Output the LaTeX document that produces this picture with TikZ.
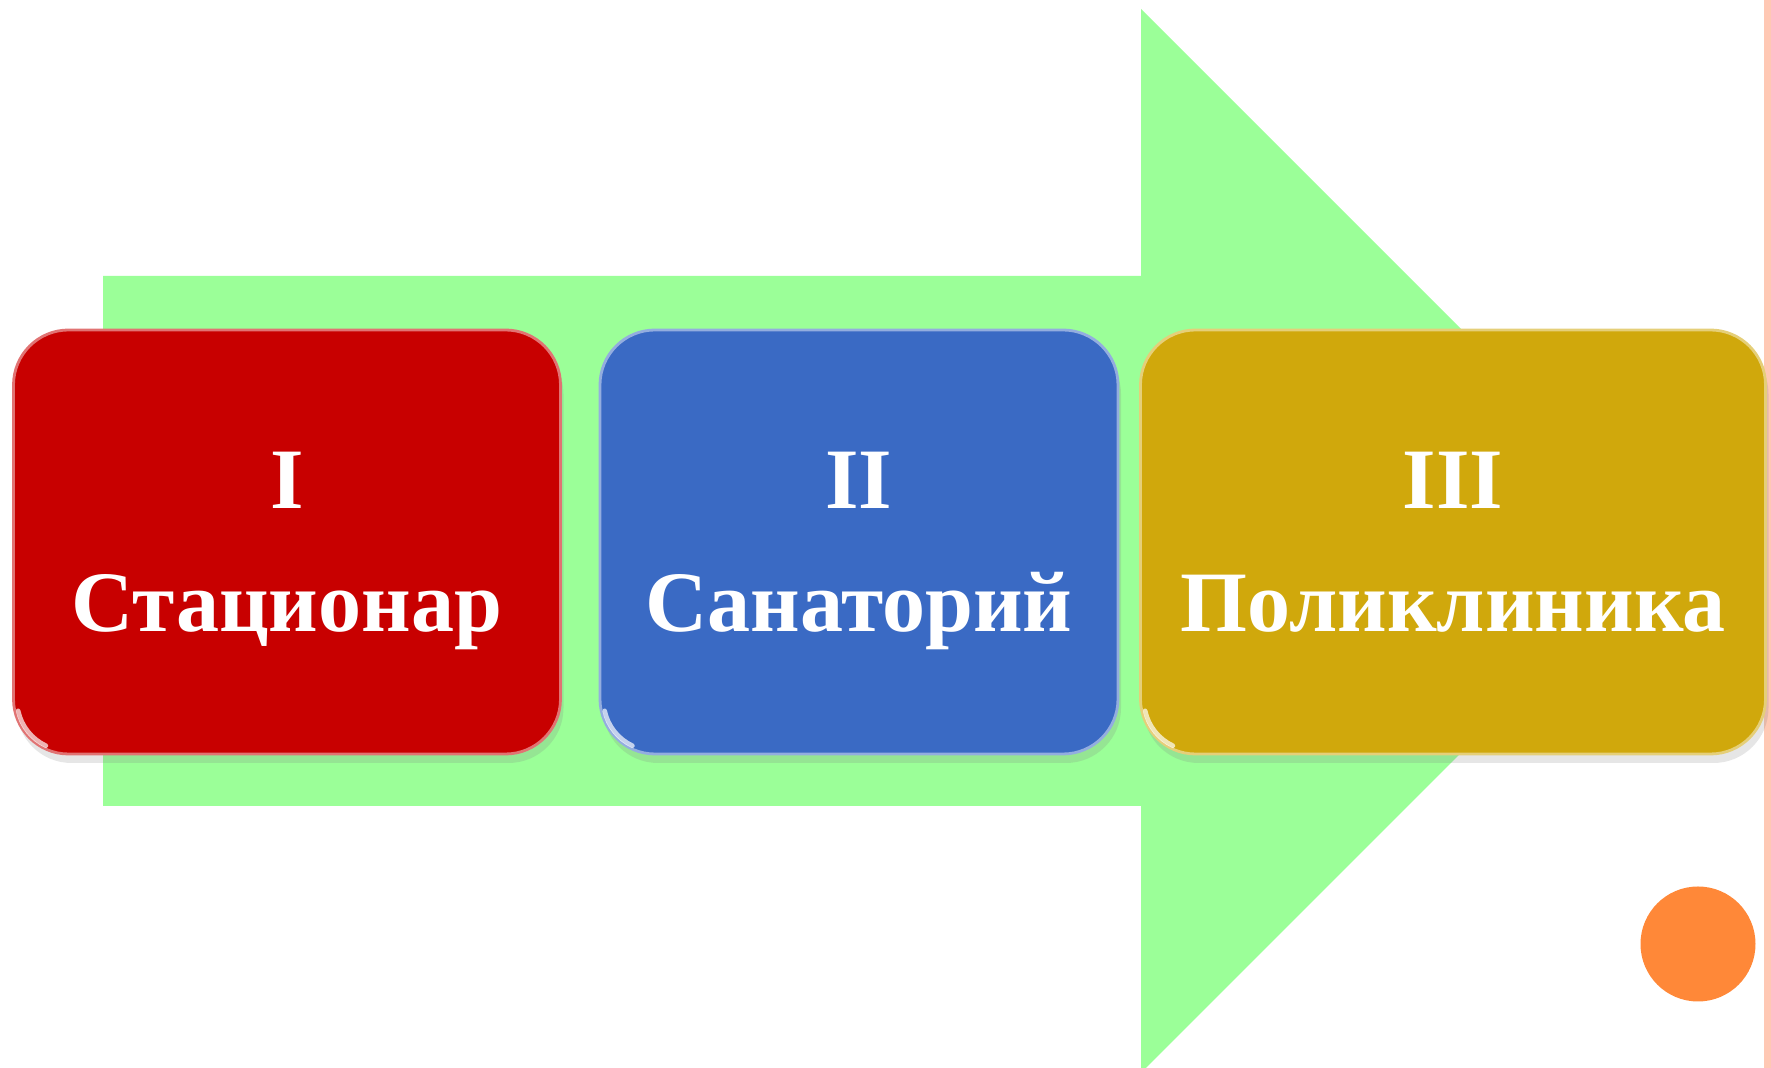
\documentclass[tikz,border=0pt]{standalone}
\usepackage{fontspec}
\setmainfont{Liberation Serif}
\usetikzlibrary{shadows}
\definecolor{arrowgreen}{HTML}{9BFF98}
\definecolor{stagered}{HTML}{C80000}
\definecolor{stageblue}{HTML}{3A6AC4}
\definecolor{stageyellow}{HTML}{D0A80C}
\definecolor{dotorange}{HTML}{FF8838}
\definecolor{edgepink}{HTML}{FFC8B4}
\tikzset{
  stage/.style={rectangle, rounded corners=5.5mm, minimum height=4.24cm, inner sep=0pt, line width=0.8pt,
    drop shadow={shadow xshift=0.3mm, shadow yshift=-0.9mm, opacity=0.2}},
  redstage/.style={stage, fill=stagered, draw=stagered!55!white, minimum width=5.47cm},
  bluestage/.style={stage, fill=stageblue, draw=stageblue!55!white, minimum width=5.18cm},
  yellowstage/.style={stage, fill=stageyellow, draw=stageyellow!55!white, minimum width=6.25cm},
  stagetext/.style={align=center, text=white, font=\fontsize{24.5}{35}\selectfont\bfseries, inner sep=0pt, yshift=-0.9mm},
  gloss/.style={line width=1.3pt, white, opacity=0.7, line cap=round}
}

\begin{document}
\begin{tikzpicture}
\useasboundingbox (0,0) rectangle (17.71,10.68);
% background arrow
\fill[arrowgreen] (1.03,7.92) -- (11.41,7.92) -- (11.41,10.59) -- (16.73,5.27)
  -- (11.41,-0.05) -- (11.41,2.62) -- (1.03,2.62) -- cycle;
% right edge strip
\fill[edgepink] (17.64,0) rectangle (17.71,10.68);
% stages
\node[redstage] (stac) at (2.87,5.26) {};
\node[bluestage] (sanat) at (8.59,5.26) {};
\node[yellowstage] (polik) at (14.53,5.26) {};
\node[stagetext] (stac-t) at (stac) {I\\Стационар};
\node[stagetext] (sanat-t) at (sanat) {II\\Санаторий};
\node[stagetext] (polik-t) at (polik) {III\\Поликлиника\vphantom{р}};
% highlight on the lower left corners
\foreach \s in {stac,sanat,polik}
  \draw[gloss] ([shift={(0.55,0.55)}]\s.south west) ++(192:0.5) arc[start angle=192, end angle=245, radius=0.5];
% dot
\node[circle, fill=dotorange, minimum size=1.15cm, inner sep=0pt] (dot) at (16.98,1.24) {};
\end{tikzpicture}
\end{document}
